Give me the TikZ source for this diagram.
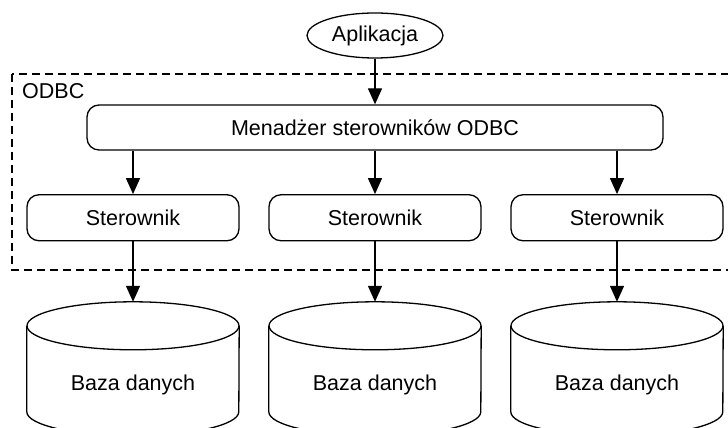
\documentclass[tikz,border=0pt]{standalone}
\usepackage{fontspec}
\setmainfont{Liberation Sans}
\usetikzlibrary{arrows.meta,shapes.geometric}

\tikzset{
  line/.style={line width=1.3pt},
  flow/.style={line, -{Triangle[length=16pt,width=14pt]}},
  roundbox/.style={draw, line, rounded corners=12pt, minimum height=46pt,
    inner sep=0pt, font=\fontsize{21.5}{25}\selectfont},
  oval/.style={draw, line, ellipse, minimum width=136pt, minimum height=45pt,
    inner sep=0pt, font=\fontsize{21.5}{25}\selectfont},
  dbbox/.style={minimum width=212pt, minimum height=134pt, inner sep=0pt},
  dblabel/.style={font=\fontsize{21.5}{25}\selectfont, inner sep=0pt},
  group/.style={draw, line width=1.2pt, dash pattern=on 8pt off 5pt},
}

% database cylinder around a named box node
\newcommand\dbcylinder[1]{%
  \draw[line, fill=white]
    ([yshift=-24pt]#1.north west) -- ([yshift=-110pt]#1.north west)
    arc[start angle=180, end angle=360, x radius=106pt, y radius=24pt]
    -- ([yshift=-24pt]#1.north east);
  \draw[line] ([yshift=-24pt]#1.north) ellipse[x radius=106pt, y radius=24pt];
}

\begin{document}
\begin{tikzpicture}[x=1pt,y=1pt]
  \useasboundingbox (0,0) rectangle (728,428);

  % ODBC layer
  \draw[group] (12,354) rectangle (740,158);
  \node[anchor=west, dblabel] (odbc) at (22,336.5) {ODBC};

  \node[oval] (app) at (375,392.5) {Aplikacja};
  \node[roundbox, minimum width=576pt, minimum height=45pt] (mgr) at (375,300.5)
    {Menadżer sterowników ODBC};

  \node[roundbox, minimum width=212pt] (s1) at (133,210.25) {Sterownik};
  \node[roundbox, minimum width=212pt] (s2) at (375,210.25) {Sterownik};
  \node[roundbox, minimum width=212pt] (s3) at (617,210.25) {Sterownik};

  \node[dbbox] (db1) at (133,59) {};
  \node[dbbox] (db2) at (375,59) {};
  \node[dbbox] (db3) at (617,59) {};
  \dbcylinder{db1}
  \dbcylinder{db2}
  \dbcylinder{db3}
  \node[dblabel] (l1) at (133,43) {Baza danych};
  \node[dblabel] (l2) at (375,43) {Baza danych};
  \node[dblabel] (l3) at (617,43) {Baza danych};

  \draw[flow] (app.south) -- (mgr.north);
  \foreach \s/\d in {s1/db1, s2/db2, s3/db3} {
    \draw[flow] (mgr.south -| \s) -- (\s.north);
    \draw[flow] (\s.south) -- (\d.north);
  }
\end{tikzpicture}
\end{document}
